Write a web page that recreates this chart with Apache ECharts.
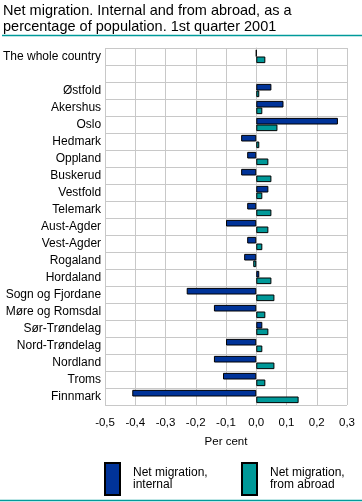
<!DOCTYPE html>
<html><head><meta charset="utf-8">
<script src="https://cdn.jsdelivr.net/npm/echarts@6/dist/echarts.min.js"></script>
<style>html,body{margin:0;padding:0;background:#fff}#c{width:362px;height:502px}</style>
</head><body><div id="c"></div>
<script>
const categories = ["The whole country","","Østfold","Akershus","Oslo","Hedmark","Oppland","Buskerud","Vestfold","Telemark","Aust-Agder","Vest-Agder","Rogaland","Hordaland","Sogn og Fjordane","Møre og Romsdal","Sør-Trøndelag","Nord-Trøndelag","Nordland","Troms","Finnmark"];
const internal = [0,null,0.05,0.09,0.27,-0.05,-0.03,-0.05,0.04,-0.03,-0.10,-0.03,-0.04,0.01,-0.23,-0.14,0.02,-0.10,-0.14,-0.11,-0.41];
const abroad = [0.03,null,0.01,0.02,0.07,0.01,0.04,0.05,0.02,0.05,0.04,0.02,-0.01,0.05,0.06,0.03,0.04,0.02,0.06,0.03,0.14];
const seriesNames = ["Net migration, internal","Net migration, from abroad"];
const legendLabels = ["Net migration,\ninternal","Net migration,\nfrom abroad"];
const titleText = "Net migration. Internal and from abroad, as a\npercentage of population. 1st quarter 2001";
const axisName = "Per cent";

const FONT = "Liberation Sans";
const chart = echarts.init(document.getElementById('c'), null, {renderer:'canvas'});
const legendFor = (i, left) => ({
  data: [seriesNames[i]], left: left, top: 462, orient: 'vertical', padding: 0,
  itemWidth: 15, itemHeight: 32, icon: 'rect',
  formatter: () => legendLabels[i],
  textStyle: {fontFamily: FONT, fontSize: 12, color: '#000', lineHeight: 12, padding: [0,0,0,8]},
  selectedMode: false
});
chart.setOption({
  animation: false,
  textStyle: {fontFamily: FONT},
  title: {text: titleText, left: 3, top: 3, padding: 0, textStyle: {fontFamily: FONT, fontSize: 14.5, fontWeight: 'normal', color: '#000', lineHeight: 16}},
  graphic: [
    {type:'line', shape:{x1:2,y1:35.5,x2:362,y2:35.5}, style:{stroke:'#009a9a', lineWidth:1.5}},
    {type:'line', shape:{x1:0,y1:500.5,x2:362,y2:500.5}, style:{stroke:'#009a9a', lineWidth:1.5}}
  ],
  legend: [legendFor(0, 104), legendFor(1, 241)],
  grid: {left: 103, right: 15, top: 48, bottom: 97, containLabel: false},
  xAxis: {
    type: 'value', min: -0.5, max: 0.3, interval: 0.1,
    name: axisName, nameLocation: 'middle', nameGap: 31,
    nameTextStyle: {fontFamily: FONT, fontSize: 11.5, color: '#000'},
    axisLine: {show: false}, axisTick: {show: false},
    axisLabel: {margin: 12, fontFamily: FONT, fontSize: 11.5, color: '#000',
      formatter: v => (Math.round(v*10)/10).toFixed(1).replace('.', ',')},
    splitLine: {show: true, lineStyle: {color: '#c8c8c8', width: 1}}
  },
  yAxis: {
    type: 'category', data: categories, inverse: true,
    axisLine: {show: true, lineStyle: {color: '#c8c8c8'}}, axisTick: {show: false},
    axisLabel: {margin: 4, fontFamily: FONT, fontSize: 12, color: '#000'},
    splitLine: {show: true, lineStyle: {color: '#c8c8c8', width: 1}}
  },
  series: [
    {name: seriesNames[0], type: 'bar', data: internal, barGap: '0%', barCategoryGap: '22%',
     itemStyle: {color: '#003399', borderColor: '#000', borderWidth: 1}},
    {name: seriesNames[1], type: 'bar', data: abroad,
     itemStyle: {color: '#009999', borderColor: '#000', borderWidth: 1}}
  ]
});
</script></body></html>
